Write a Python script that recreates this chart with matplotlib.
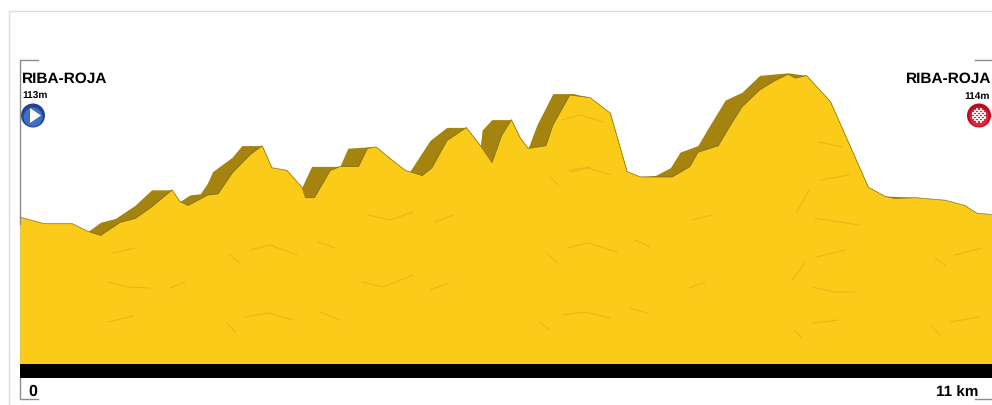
import matplotlib
matplotlib.use("Agg")
import matplotlib.pyplot as plt
from matplotlib.patches import Circle, Polygon, Rectangle

plt.rcParams["text.hinting"] = "no_hinting"

# ---------- road profile ----------
front_km = [0, .27, .59, .77, .91, 1.13, 1.30, 1.47, 1.72, 1.81, 1.90, 2.12, 2.24, 2.40, 2.60, 2.74,
            2.85, 3.02, 3.19, 3.23, 3.33, 3.51, 3.62, 3.83, 3.93, 4.03, 4.19, 4.36, 4.41, 4.55, 4.66,
            4.83, 5.05, 5.21, 5.34, 5.45, 5.56, 5.66, 5.75, 5.95, 6.03, 6.22, 6.45, 6.68, 6.87, 7.02,
            7.38, 7.58, 7.67, 7.90, 8.04, 8.17, 8.37, 8.54, 8.69, 8.77, 8.90, 9.17, 9.34, 9.60, 9.79,
            9.89, 10.13, 10.47, 10.69, 10.83, 11]
front_m = [113, 108, 108, 102, 99, 109, 112, 120, 134, 125, 122, 130, 131, 147, 161, 168,
           151, 149, 136, 128, 128, 149, 152, 152, 166, 167, 158, 149, 148, 145, 151,
           172, 182, 168, 155, 176, 188, 174, 166, 168, 184, 207, 205, 193, 148, 144,
           144, 152, 163, 168, 184, 198, 211, 218, 223, 220, 222, 202, 176, 136, 129,
           127.5, 128, 126, 122, 116, 115]

# upper edge of the dark side of the road
back_km = [0, .27, .59, .77, .91, 1.08, 1.30, 1.49, 1.72, 1.81, 1.92, 2.04, 2.12, 2.18, 2.40, 2.51, 2.74,
           2.85, 3.02, 3.19, 3.30, 3.51, 3.62, 3.71, 3.93, 4.03, 4.19, 4.36, 4.41, 4.64, 4.83, 5.05,
           5.21, 5.23, 5.34, 5.56, 5.66, 5.75, 5.85, 6.03, 6.26, 6.45, 6.68, 6.87, 7.02, 7.19, 7.36,
           7.47, 7.67, 7.81, 7.98, 8.17, 8.37, 8.69, 8.90, 9.17, 9.34, 9.60, 9.79, 9.89, 10.13,
           10.47, 10.69, 10.83, 11]
back_m = [113, 108, 108, 102, 109, 112, 122, 134, 134, 125, 130, 131, 139, 148, 159, 168, 168,
          151, 149, 136, 152, 152, 152, 166, 167, 167, 158, 149, 148, 172, 182, 182,
          168, 180, 188, 188, 174, 166, 184, 208, 208, 205, 193, 148, 144, 145, 151,
          163, 168, 184, 203, 209, 222, 224, 222, 202, 176, 136, 129, 129, 128,
          126, 122, 116, 115]

start_name, finish_name = "RIBA-ROJA", "RIBA-ROJA"
start_alt, finish_alt = "113m", "114m"
start_label, finish_label = "0", "11 km"

# surface cracks, in picture pixels (decoration only)
cracks = [
    [(113, 253), (135, 248)], [(108, 282), (127, 287), (150, 288)], [(108, 322), (133, 316)],
    [(250, 250), (270, 245), (297, 255)], [(245, 317), (268, 313), (293, 320)],
    [(230, 255), (240, 263)], [(227, 323), (235, 332)], [(170, 288), (185, 282)],
    [(320, 312), (340, 320)], [(318, 242), (335, 248)],
    [(368, 215), (390, 220), (413, 212)], [(435, 222), (453, 215)],
    [(362, 282), (383, 287), (413, 275)], [(430, 290), (448, 283)],
    [(567, 248), (588, 243), (617, 252)], [(562, 315), (585, 312), (610, 318)],
    [(547, 253), (557, 263)], [(540, 322), (550, 330)], [(570, 170), (590, 167)],
    [(550, 177), (558, 185)], [(630, 308), (647, 313)], [(635, 240), (650, 247)],
    [(820, 180), (849, 175)], [(815, 218), (839, 222), (859, 225)], [(817, 257), (845, 250)],
    [(812, 287), (835, 292), (855, 292)], [(812, 323), (839, 320)], [(955, 255), (982, 248)],
    [(950, 322), (979, 317)], [(692, 220), (712, 215)], [(689, 288), (705, 282)],
    [(792, 280), (805, 263)], [(794, 330), (802, 338)], [(935, 258), (945, 265)],
    [(932, 327), (940, 335)], [(797, 212), (809, 190)],
    [(562, 120), (580, 115), (603, 122)], [(570, 172), (588, 168), (612, 175)],
    [(819, 142), (842, 147)],
]

GOLD = "#FBCB1A"
SHADE = "#A5830F"
GREY = "#8C8C8C"
FONT = "Liberation Sans"


def main():
    fig = plt.figure(figsize=(9.92, 4.05), dpi=100)

    # data axes: 88.36 px per km, 1.3 px per metre, road bed at y=364
    ax = fig.add_axes([0, 0, 1, 1])
    ax.set_xlim(-20 / 88.36, 11)
    ax.set_ylim(-41 / 1.3, 364 / 1.3)
    ax.axis("off")
    ax.fill_between(back_km, 0, back_m, color=SHADE, lw=0)
    ax.fill_between(front_km, 0, front_m, color=GOLD, lw=0)
    ax.plot(front_km, front_m, color="#8A7414", lw=0.5)
    ax.fill_between([0, 11], -14 / 1.3, 0, color="black", lw=0)

    # overlay in picture pixels for the frame, labels and icons
    pa = fig.add_axes([0, 0, 1, 1])
    pa.set_xlim(0, 992)
    pa.set_ylim(405, 0)
    pa.axis("off")
    pa.patch.set_alpha(0)

    for crack in cracks:
        pa.plot(*zip(*crack), color="#E6B716", lw=0.8, solid_capstyle="round")

    # page frame
    pa.plot([8.5, 8.5, 992], [405, 10.5, 10.5], color="#DCDCDC", lw=1)

    # corner brackets
    pa.plot([38, 20, 20], [60, 60, 224], color=GREY, lw=1)
    pa.plot([975, 992], [60, 60], color=GREY, lw=1)
    pa.plot([20, 20, 38], [378, 399, 399], color=GREY, lw=1)
    pa.plot([975, 992], [399, 399], color=GREY, lw=1)

    # names and altitudes
    pa.text(22, 79, start_name, family=FONT, weight="bold", size=11.1, va="center", color="black")
    pa.text(991, 79, finish_name, family=FONT, weight="bold", size=11.1, va="center", ha="right", color="black")
    pa.text(22, 96, start_alt, family=FONT, weight="bold", size=7.3, va="center", color="black")
    pa.text(990, 96, finish_alt, family=FONT, weight="bold", size=7.3, va="center", ha="right", color="black")
    pa.text(28, 392, start_label, family=FONT, weight="bold", size=11.5, va="center", color="black")
    pa.text(978, 392, finish_label, family=FONT, weight="bold", size=11, va="center", ha="right", color="black")

    # start icon
    pa.add_patch(Circle((33, 115.5), 12, color="#1F4590", lw=0))
    pa.add_patch(Circle((33, 117), 9.5, color="#3F6FC0", lw=0))
    pa.add_patch(Polygon([(30, 108), (30, 123), (41, 115.5)], color="white", lw=0))

    # finish icon
    pa.add_patch(Circle((979, 115.5), 12, color="#B90C1E", lw=0))
    pa.add_patch(Circle((979, 117), 9.5, color="#E2253A", lw=0))
    for row in range(-3, 4):
        for col in range(-3, 4):
            if (row + col) % 2 == 0 and row * row + col * col <= 11:
                pa.add_patch(Rectangle((979 + col * 2 - 1.1, 115.5 + row * 2 - 1.1), 2.2, 2.2,
                                       color="#FBE6E8", lw=0))

    fig.savefig("out.png", dpi=100)


if __name__ == "__main__":
    main()
